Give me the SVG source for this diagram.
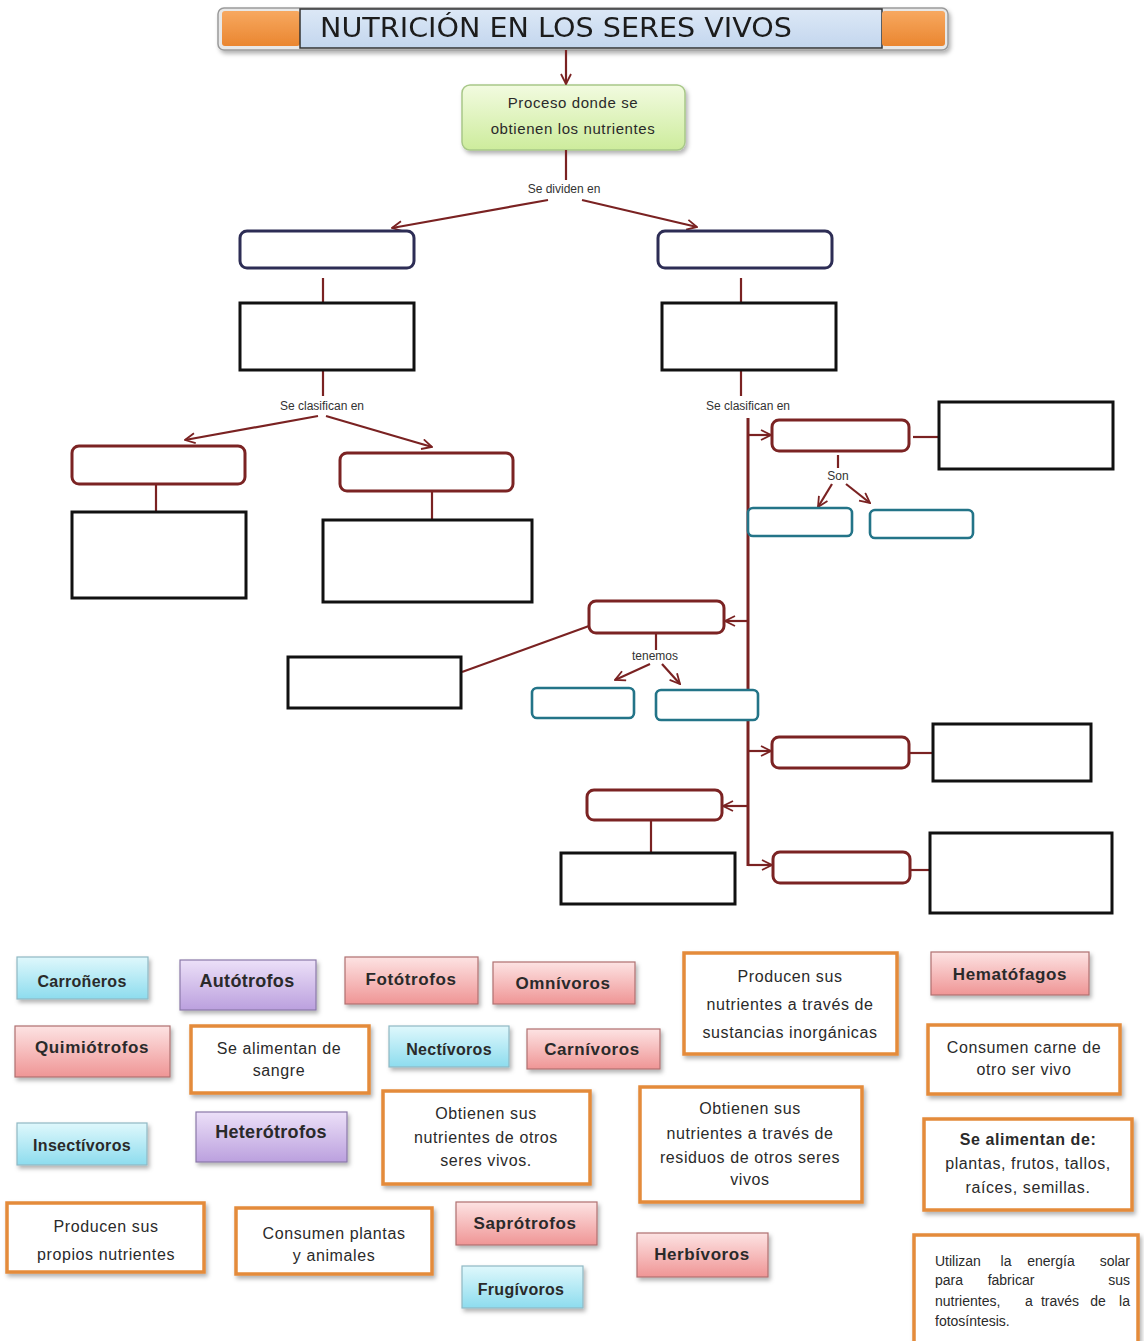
<svg xmlns="http://www.w3.org/2000/svg" width="1144" height="1341" viewBox="0 0 1144 1341">
<defs>
<marker id="ah" viewBox="0 0 12 12" refX="11" refY="6" markerWidth="12" markerHeight="12" markerUnits="userSpaceOnUse" orient="auto">
<path d="M1,1 L11,6 L1,11" fill="none" stroke="#7a2222" stroke-width="1.8"/>
</marker>
<linearGradient id="gCyan" x1="0" y1="0" x2="0" y2="1"><stop offset="0" stop-color="#dff8fc"/><stop offset="1" stop-color="#8ddcee"/></linearGradient>
<linearGradient id="gPur" x1="0" y1="0" x2="0" y2="1"><stop offset="0" stop-color="#ece0f8"/><stop offset="1" stop-color="#bba0de"/></linearGradient>
<linearGradient id="gPink" x1="0" y1="0" x2="0" y2="1"><stop offset="0" stop-color="#fde3e3"/><stop offset="1" stop-color="#ef9595"/></linearGradient>
<linearGradient id="gGreen" x1="0" y1="0" x2="0" y2="1"><stop offset="0" stop-color="#f2fbe0"/><stop offset="1" stop-color="#cdec9c"/></linearGradient>
<linearGradient id="gOr" x1="0" y1="0" x2="0" y2="1"><stop offset="0" stop-color="#f7a860"/><stop offset="1" stop-color="#ea8630"/></linearGradient>
<linearGradient id="gTitle" x1="0" y1="0" x2="0" y2="1"><stop offset="0" stop-color="#dce8f6"/><stop offset="1" stop-color="#c3d6ee"/></linearGradient>
<filter id="sh" x="-10%" y="-10%" width="130%" height="140%"><feDropShadow dx="2" dy="3" stdDeviation="2" flood-color="#000" flood-opacity="0.3"/></filter>
</defs>
<style>
.conn line, .conn path { stroke:#7a2222; stroke-width:2.2; fill:none; }
.rb { fill:#fff; stroke:#7b2323; stroke-width:3; }
.nb { fill:#fff; stroke:#2d2d55; stroke-width:3; }
.tb { fill:#fff; stroke:#237488; stroke-width:2.6; }
.bk { fill:#fff; stroke:#111; stroke-width:3; }
.lab { font-family:"Liberation Sans", Arial, sans-serif; font-size:12px; fill:#333; text-anchor:middle; }
.cy { fill:url(#gCyan); stroke:#8fb8c4; stroke-width:1.2; filter:url(#sh); }
.pu { fill:url(#gPur); stroke:#8a78a8; stroke-width:1.2; filter:url(#sh); }
.pk { fill:url(#gPink); stroke:#b07070; stroke-width:1.2; filter:url(#sh); }
.ob { fill:#fff; stroke:#e48b3a; stroke-width:3.5; filter:url(#sh); }
.bt { font-family:"Liberation Sans", Arial, sans-serif; font-size:16px; font-weight:bold; fill:#2a2a2a; text-anchor:middle; letter-spacing:0.3px; }
.bp { font-size:17px; letter-spacing:0.6px; }
.ot { font-family:"Liberation Sans", Arial, sans-serif; font-size:16px; fill:#2a2a2a; text-anchor:middle; letter-spacing:0.6px; }
.jt { font-family:"Liberation Sans", Arial, sans-serif; font-size:14px; fill:#2a2a2a; }
</style>
<rect width="1144" height="1341" fill="#fff"/>

<g id="title" filter="url(#sh)">
<rect x="218" y="8" width="730" height="42" rx="6" fill="#e8e8e8" stroke="#9a9a9a" stroke-width="1.5"/>
<rect x="222" y="11" width="78" height="35" rx="3" fill="url(#gOr)"/>
<rect x="300" y="9" width="582" height="39" fill="url(#gTitle)" stroke="#333" stroke-width="1.5"/>
<rect x="882" y="11" width="63" height="35" rx="3" fill="url(#gOr)"/>
<text x="556" y="37" font-family="'DejaVu Sans', 'Liberation Sans', sans-serif" font-size="27" fill="#1a1a1a" text-anchor="middle" textLength="472" lengthAdjust="spacingAndGlyphs">NUTRICIÓN EN LOS SERES VIVOS</text>
</g>

<g id="proceso">
<rect x="462" y="85" width="223" height="65" rx="8" fill="url(#gGreen)" stroke="#a8c888" stroke-width="1.5" filter="url(#sh)"/>
<text class="ot" x="573" y="108" style="font-size:15px">Proceso donde se</text>
<text class="ot" x="573" y="134" style="font-size:15px">obtienen los nutrientes</text>
</g>

<g id="connectors" class="conn">
<line x1="566" y1="50" x2="566" y2="84" marker-end="url(#ah)"/>
<line x1="566" y1="150" x2="566" y2="180"/>
<line x1="548" y1="200" x2="392" y2="228" marker-end="url(#ah)"/>
<line x1="582" y1="200" x2="697" y2="227" marker-end="url(#ah)"/>
<line x1="323" y1="278" x2="323" y2="303"/>
<line x1="741" y1="278" x2="741" y2="303"/>
<line x1="323" y1="370" x2="323" y2="396"/>
<line x1="318" y1="416" x2="185" y2="440" marker-end="url(#ah)"/>
<line x1="326" y1="416" x2="432" y2="447" marker-end="url(#ah)"/>
<line x1="156" y1="484" x2="156" y2="512"/>
<line x1="432" y1="491" x2="432" y2="520"/>
<line x1="741" y1="370" x2="741" y2="396"/>
<line x1="748" y1="418" x2="748" y2="866" style="stroke-width:3"/>
<line x1="748" y1="435" x2="771" y2="435" marker-end="url(#ah)"/>
<line x1="913" y1="437" x2="938" y2="437"/>
<line x1="838" y1="455" x2="838" y2="468"/>
<line x1="832" y1="484" x2="818" y2="507" marker-end="url(#ah)"/>
<line x1="846" y1="484" x2="870" y2="503" marker-end="url(#ah)"/>
<line x1="748" y1="621" x2="725" y2="621" marker-end="url(#ah)"/>
<line x1="589" y1="626" x2="462" y2="672"/>
<line x1="656" y1="633" x2="656" y2="650"/>
<line x1="650" y1="664" x2="615" y2="680" marker-end="url(#ah)"/>
<line x1="662" y1="664" x2="680" y2="684" marker-end="url(#ah)"/>
<line x1="748" y1="751" x2="771" y2="751" marker-end="url(#ah)"/>
<line x1="909" y1="753" x2="933" y2="753"/>
<line x1="748" y1="806" x2="723" y2="806" marker-end="url(#ah)"/>
<line x1="651" y1="820" x2="651" y2="852"/>
<line x1="748" y1="865" x2="772" y2="865" marker-end="url(#ah)"/>
<line x1="910" y1="870" x2="930" y2="870"/>
<text class="lab" x="564" y="193" style="stroke:none">Se dividen en</text>
<text class="lab" x="322" y="410" style="stroke:none">Se clasifican en</text>
<text class="lab" x="748" y="410" style="stroke:none">Se clasifican en</text>
<text class="lab" x="838" y="480" style="stroke:none">Son</text>
<text class="lab" x="655" y="660" style="stroke:none">tenemos</text>
</g>

<g id="n-left-top"><rect class="nb" x="240" y="231" width="174" height="37" rx="7"/></g>
<g id="n-right-top"><rect class="nb" x="658" y="231" width="174" height="37" rx="7"/></g>
<g id="n-left-rect"><rect class="bk" x="240" y="303" width="174" height="67"/></g>
<g id="n-right-rect"><rect class="bk" x="662" y="303" width="174" height="67"/></g>
<g id="n-ll"><rect class="rb" x="72" y="446" width="173" height="38" rx="7"/></g>
<g id="n-ll-rect"><rect class="bk" x="72" y="512" width="174" height="86"/></g>
<g id="n-lr"><rect class="rb" x="340" y="453" width="173" height="38" rx="7"/></g>
<g id="n-lr-rect"><rect class="bk" x="323" y="520" width="209" height="82"/></g>
<g id="n-r1"><rect class="rb" x="772" y="420" width="137" height="31" rx="7"/></g>
<g id="n-r1-rect"><rect class="bk" x="939" y="402" width="174" height="67"/></g>
<g id="n-r1-t1"><rect class="tb" x="748" y="508" width="104" height="28" rx="5"/></g>
<g id="n-r1-t2"><rect class="tb" x="870" y="510" width="103" height="28" rx="5"/></g>
<g id="n-r2"><rect class="rb" x="589" y="601" width="135" height="32" rx="7"/></g>
<g id="n-r2-rect"><rect class="bk" x="288" y="657" width="173" height="51"/></g>
<g id="n-r2-t1"><rect class="tb" x="532" y="688" width="102" height="30" rx="5"/></g>
<g id="n-r2-t2"><rect class="tb" x="656" y="690" width="102" height="30" rx="5"/></g>
<g id="n-r3"><rect class="rb" x="772" y="737" width="137" height="31" rx="7"/></g>
<g id="n-r3-rect"><rect class="bk" x="933" y="724" width="158" height="57"/></g>
<g id="n-r4"><rect class="rb" x="587" y="790" width="135" height="30" rx="7"/></g>
<g id="n-r4-rect"><rect class="bk" x="561" y="853" width="174" height="51"/></g>
<g id="n-r5"><rect class="rb" x="773" y="852" width="137" height="31" rx="7"/></g>
<g id="n-r5-rect"><rect class="bk" x="930" y="833" width="182" height="80"/></g>

<g id="w-carroneros"><rect class="cy" x="17" y="957" width="131" height="42"/><text class="bt" x="82" y="987">Carroñeros</text></g>
<g id="w-autotrofos"><rect class="pu" x="180" y="960" width="136" height="50"/><text class="bt" x="247" y="987" style="font-size:18px">Autótrofos</text></g>
<g id="w-fototrofos"><rect class="pk" x="345" y="957" width="133" height="47"/><text class="bt bp" x="411" y="985">Fotótrofos</text></g>
<g id="w-omnivoros"><rect class="pk" x="493" y="962" width="142" height="42"/><text class="bt bp" x="563" y="989">Omnívoros</text></g>
<g id="w-prod-inorg"><rect class="ob" x="684" y="953" width="213" height="101"/>
<text class="ot" x="790" y="982">Producen sus</text><text class="ot" x="790" y="1010">nutrientes a través de</text><text class="ot" x="790" y="1038">sustancias inorgánicas</text></g>
<g id="w-hematofagos"><rect class="pk" x="931" y="952" width="158" height="43"/><text class="bt bp" x="1010" y="980">Hematófagos</text></g>

<g id="w-quimiotrofos"><rect class="pk" x="15" y="1026" width="155" height="51"/><text class="bt bp" x="92" y="1053">Quimiótrofos</text></g>
<g id="w-sangre"><rect class="ob" x="191" y="1026" width="178" height="67"/>
<text class="ot" x="279" y="1054">Se alimentan de</text><text class="ot" x="279" y="1076">sangre</text></g>
<g id="w-nectivoros"><rect class="cy" x="389" y="1026" width="120" height="41"/><text class="bt" x="449" y="1055">Nectívoros</text></g>
<g id="w-carnivoros"><rect class="pk" x="527" y="1029" width="133" height="40"/><text class="bt bp" x="592" y="1055">Carnívoros</text></g>
<g id="w-carne"><rect class="ob" x="928" y="1025" width="192" height="69"/>
<text class="ot" x="1024" y="1053">Consumen carne de</text><text class="ot" x="1024" y="1075">otro ser vivo</text></g>

<g id="w-insectivoros"><rect class="cy" x="17" y="1123" width="130" height="42"/><text class="bt" x="82" y="1151">Insectívoros</text></g>
<g id="w-heterotrofos"><rect class="pu" x="196" y="1112" width="151" height="50"/><text class="bt" x="271" y="1138" style="font-size:18px">Heterótrofos</text></g>
<g id="w-otros"><rect class="ob" x="383" y="1091" width="207" height="93"/>
<text class="ot" x="486" y="1119">Obtienen sus</text><text class="ot" x="486" y="1143">nutrientes de otros</text><text class="ot" x="486" y="1166">seres vivos.</text></g>
<g id="w-residuos"><rect class="ob" x="640" y="1087" width="222" height="115"/>
<text class="ot" x="750" y="1114">Obtienen sus</text><text class="ot" x="750" y="1139">nutrientes a través de</text><text class="ot" x="750" y="1163">residuos de otros seres</text><text class="ot" x="750" y="1185">vivos</text></g>
<g id="w-plantas"><rect class="ob" x="924" y="1119" width="208" height="91"/>
<text class="ot" x="1028" y="1145" style="font-weight:bold">Se alimentan de:</text><text class="ot" x="1028" y="1169">plantas, frutos, tallos,</text><text class="ot" x="1028" y="1193">raíces, semillas.</text></g>

<g id="w-propios"><rect class="ob" x="7" y="1203" width="197" height="69"/>
<text class="ot" x="106" y="1232">Producen sus</text><text class="ot" x="106" y="1260">propios nutrientes</text></g>
<g id="w-plantas-animales"><rect class="ob" x="236" y="1208" width="196" height="66"/>
<text class="ot" x="334" y="1239">Consumen plantas</text><text class="ot" x="334" y="1261">y animales</text></g>
<g id="w-saprotrofos"><rect class="pk" x="456" y="1202" width="141" height="43"/><text class="bt bp" x="525" y="1229">Saprótrofos</text></g>
<g id="w-frugivoros"><rect class="cy" x="462" y="1266" width="121" height="42"/><text class="bt" x="521" y="1295">Frugívoros</text></g>
<g id="w-herbivoros"><rect class="pk" x="637" y="1233" width="131" height="44"/><text class="bt bp" x="702" y="1260">Herbívoros</text></g>
<g id="w-solar"><rect class="ob" x="914" y="1235" width="224" height="110"/>
<text class="jt" x="935" y="1266">Utilizan</text><text class="jt" x="1006" y="1266" text-anchor="middle">la</text><text class="jt" x="1051" y="1266" text-anchor="middle">energía</text><text class="jt" x="1130" y="1266" text-anchor="end">solar</text>
<text class="jt" x="935" y="1285">para</text><text class="jt" x="1011" y="1285" text-anchor="middle">fabricar</text><text class="jt" x="1130" y="1285" text-anchor="end">sus</text>
<text class="jt" x="935" y="1306">nutrientes,</text><text class="jt" x="1029" y="1306" text-anchor="middle">a</text><text class="jt" x="1060" y="1306" text-anchor="middle">través</text><text class="jt" x="1098" y="1306" text-anchor="middle">de</text><text class="jt" x="1130" y="1306" text-anchor="end">la</text>
<text class="jt" x="935" y="1326">fotosíntesis.</text></g>
</svg>
